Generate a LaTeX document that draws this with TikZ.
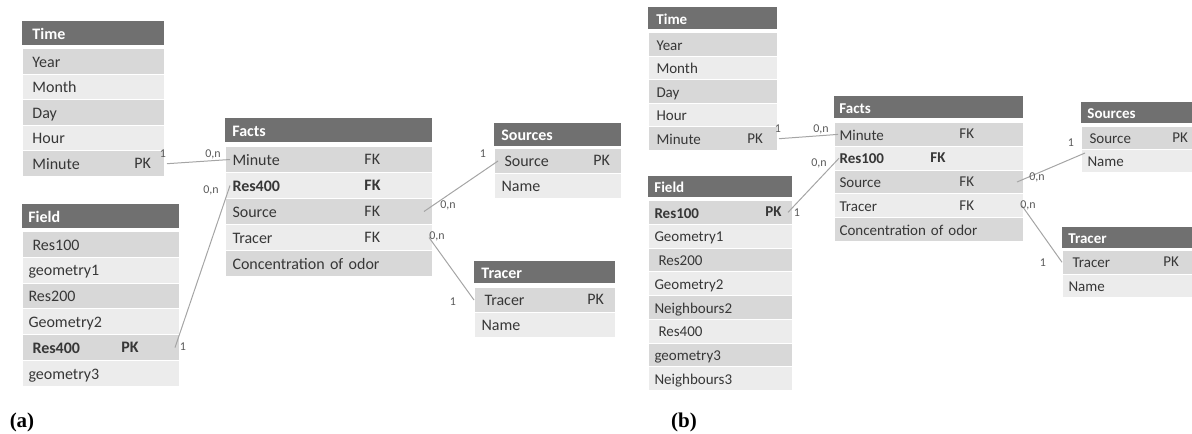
\documentclass[tikz,border=0pt]{standalone}
\usepackage{fontspec}
\setmainfont{Carlito}
\newfontfamily\capfont{Liberation Serif}
\usepackage{tikz}
\usetikzlibrary{positioning}
\definecolor{hdrgray}{RGB}{112,112,112}
\definecolor{rowdk}{RGB}{216,216,216}
\definecolor{rowlt}{RGB}{236,236,236}
\definecolor{txtgray}{RGB}{55,55,55}
\definecolor{linkgray}{RGB}{165,165,165}
\definecolor{cardgray}{RGB}{90,90,90}
\tikzset{tblhead/.style 2 args = {anchor=north west, fill=hdrgray, text=white,
                                  execute at begin node=\bfseries,
                                  inner xsep=3.5pt, inner ysep=0pt,
                                  text width=#1, minimum height=#2, align=left,
                                  text height=1.6ex, text depth=.4ex},
         tblrow/.style 2 args = {anchor=north west, draw=white, line width=.5pt,
                                 text=txtgray, inner xsep=3.5pt, inner ysep=0pt,
                                 text width=#1, minimum height=#2, align=left,
                                 text height=1.6ex, text depth=.4ex},
         keytxt/.style = {anchor=west, text=txtgray, inner sep=0pt},
         link/.style = {draw=linkgray, line width=.5pt},
         card/.style = {text=cardgray, font=\fontsize{6}{7}\selectfont, inner sep=0pt}}

\begin{document}
\begin{tikzpicture}[x=0.5pt, y=-0.5pt]
    \useasboundingbox (0, 0) rectangle (1192, 433);

    % (a)
    \begin{scope}[every node/.append style={font=\fontsize{8}{9.6}\selectfont}]
    \node [tblhead={61pt}{12pt}, inner xsep=5pt] (ta-h) at (22, 21) {Time};
    \foreach \t [count=\i] in {Year, Month, Day, Hour, Minute} {
        \ifodd\i \def\rc{rowdk}\else \def\rc{rowlt}\fi
        \node [tblrow={61pt}{12.8pt}, fill=\rc, inner xsep=5pt] (ta-\i) at (22, {48+(\i-1)*25.6}) {\t};
    }
    \node [keytxt] (ta-k) at (134, 163.2) {PK};

    \node [tblhead={72.5pt}{12pt}, inner xsep=3pt] (fda-h) at (22, 204) {Field};
    \foreach \t [count=\i] in {{\hspace{2pt}Res100}, geometry1, Res200, Geometry2, {\hspace{2pt}\textbf{Res400}}, geometry3} {
        \ifodd\i \def\rc{rowdk}\else \def\rc{rowlt}\fi
        \node [tblrow={72.5pt}{12.9pt}, fill=\rc, inner xsep=3pt] (fda-\i) at (22, {231+(\i-1)*25.8}) {\t};
    }
    \node [keytxt] (fda-k) at (121, 347.1) {\textbf{PK}};

    \node [tblhead={96.5pt}{12pt}] (fa-h) at (225, 118) {Facts};
    \foreach \t [count=\i] in {Minute, {\textbf{Res400}}, Source, Tracer, Concentration of odor} {
        \ifodd\i \def\rc{rowdk}\else \def\rc{rowlt}\fi
        \node [tblrow={96.5pt}{13pt}, fill=\rc] (fa-\i) at (225, {146+(\i-1)*26}) {\t};
    }
    \foreach \r/\y in {1/159, 3/211, 4/237}
        \node [keytxt] (fa-k\r) at (364, \y) {FK};
    \node [keytxt] (fa-k2) at (364, 185) {\textbf{FK}};

    \node [tblhead={56.5pt}{11.5pt}] (sa-h) at (494, 123) {Sources};
    \foreach \t [count=\i] in {{\hspace{1.5pt}Source}, Name} {
        \ifodd\i \def\rc{rowdk}\else \def\rc{rowlt}\fi
        \node [tblrow={56.5pt}{12.5pt}, fill=\rc] (sa-\i) at (494, {148+(\i-1)*25}) {\t};
    }
    \node [keytxt] (sa-k) at (593, 160.5) {PK};

    \node [tblhead={63.5pt}{11pt}] (tra-h) at (474, 261) {Tracer};
    \foreach \t [count=\i] in {{\hspace{1.5pt}Tracer}, Name} {
        \ifodd\i \def\rc{rowdk}\else \def\rc{rowlt}\fi
        \node [tblrow={63.5pt}{12.5pt}, fill=\rc] (tra-\i) at (474, {287+(\i-1)*25}) {\t};
    }
    \node [keytxt] (tra-k) at (587, 299.5) {PK};
    \end{scope}

    \draw [link] ([xshift=1pt]ta-5.east) -- ([xshift=2.5pt]fa-1.west);
    \draw [link] ([xshift=-2.5pt]fda-5.east) -- ([xshift=2.5pt]fa-2.west);
    \draw [link] ([xshift=-4.5pt]fa-3.east) -- ([xshift=2pt]sa-1.west);
    \draw [link] ([xshift=-2pt]fa-4.east) -- (tra-1.west);

    \node [card] (ca1) at (163, 154) {1};
    \node [card] (ca2) at (213, 154) {0,n};
    \node [card] (ca3) at (183, 347) {1};
    \node [card] (ca4) at (211, 190) {0,n};
    \node [card] (ca5) at (483, 154) {1};
    \node [card] (ca6) at (448, 205) {0,n};
    \node [card] (ca7) at (437, 236) {0,n};
    \node [card] (ca8) at (453, 302) {1};

    % (b)
    \begin{scope}[every node/.append style={font=\fontsize{7.5}{9}\selectfont}]
    \node [tblhead={56.5pt}{11pt}, inner xsep=4pt] (tb-h) at (648, 7) {Time};
    \foreach \t [count=\i] in {Year, Month, Day, Hour, Minute} {
        \ifodd\i \def\rc{rowdk}\else \def\rc{rowlt}\fi
        \node [tblrow={56.5pt}{11.8pt}, fill=\rc, inner xsep=4pt] (tb-\i) at (648, {32+(\i-1)*23.6}) {\t};
    }
    \node [keytxt] (tb-k) at (747, 138.2) {PK};

    \node [tblhead={66pt}{10.5pt}, inner xsep=3pt] (fdb-h) at (648, 176) {Field};
    \foreach \t [count=\i] in {{\textbf{Res100}}, Geometry1, {\hspace{2pt}Res200}, Geometry2, Neighbours2, {\hspace{2pt}Res400}, geometry3, Neighbours3} {
        \ifodd\i \def\rc{rowdk}\else \def\rc{rowlt}\fi
        \node [tblrow={66pt}{11.875pt}, fill=\rc, inner xsep=3pt] (fdb-\i) at (648, {200+(\i-1)*23.75}) {\t};
    }
    \node [keytxt] (fdb-k) at (765, 211.9) {\textbf{PK}};

    \node [tblhead={89.5pt}{11pt}, inner xsep=2.5pt] (fb-h) at (834, 96) {Facts};
    \foreach \t [count=\i] in {Minute, {\textbf{Res100}}, Source, Tracer, Concentration of odor} {
        \ifodd\i \def\rc{rowdk}\else \def\rc{rowlt}\fi
        \node [tblrow={89.5pt}{11.9pt}, fill=\rc, inner xsep=2.5pt] (fb-\i) at (834, {122+(\i-1)*23.8}) {\t};
    }
    \foreach \r/\y in {1/133.9, 3/181.5, 4/205.3}
        \node [keytxt] (fb-k\r) at (959, \y) {FK};
    \node [keytxt] (fb-k2) at (930, 157.7) {\textbf{FK}};

    \node [tblhead={49.5pt}{10.5pt}, inner xsep=3pt] (sb-h) at (1081, 102) {Sources};
    \foreach \t [count=\i] in {{\hspace{1pt}Source}, Name} {
        \ifodd\i \def\rc{rowdk}\else \def\rc{rowlt}\fi
        \node [tblrow={49.5pt}{11.5pt}, fill=\rc, inner xsep=3pt] (sb-\i) at (1081, {126+(\i-1)*23}) {\t};
    }
    \node [keytxt] (sb-k) at (1172, 137.5) {PK};

    \node [tblhead={59pt}{10.5pt}, inner xsep=3pt] (trb-h) at (1062, 227) {Tracer};
    \foreach \t [count=\i] in {{\hspace{2pt}Tracer}, Name} {
        \ifodd\i \def\rc{rowdk}\else \def\rc{rowlt}\fi
        \node [tblrow={59pt}{11.75pt}, fill=\rc, inner xsep=3pt] (trb-\i) at (1062, {250+(\i-1)*23.5}) {\t};
    }
    \node [keytxt] (trb-k) at (1163, 261.75) {PK};
    \end{scope}

    \draw [link] ([xshift=.5pt]tb-5.east) -- ([xshift=2pt]fb-1.west);
    \draw [link] ([xshift=-2.5pt]fdb-1.east) -- ([xshift=2.5pt]fb-2.west);
    \draw [link] ([xshift=-3.5pt]fb-3.east) -- ([xshift=2pt, yshift=4pt]sb-2.west);
    \draw [link] ([xshift=-1pt]fb-4.east) -- (trb-1.west);

    \node [card] (cb1) at (778, 129) {1};
    \node [card] (cb2) at (821, 129) {0,n};
    \node [card] (cb3) at (797, 213) {1};
    \node [card] (cb4) at (819, 163) {0,n};
    \node [card] (cb5) at (1037, 177) {0,n};
    \node [card] (cb6) at (1071, 143) {1};
    \node [card] (cb7) at (1028, 205) {0,n};
    \node [card] (cb8) at (1043, 263) {1};

    \node [font=\capfont\bfseries\fontsize{10.5}{12}\selectfont] (capa) at (22, 422) {(a)};
    \node [font=\capfont\bfseries\fontsize{10.5}{12}\selectfont] (capb) at (684, 422) {(b)};
\end{tikzpicture}
\end{document}
